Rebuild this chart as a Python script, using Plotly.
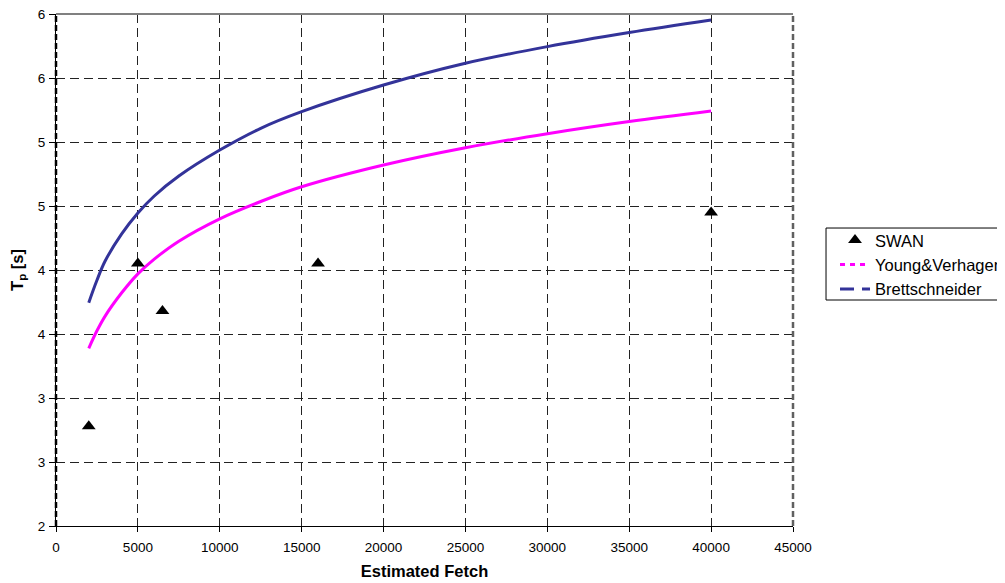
import plotly.graph_objects as go

# ---- data ----
swan_x = [2000, 5000, 6500, 16000, 40000]
swan_y = [2.78, 4.05, 3.68, 4.05, 4.45]

curve_x = [2000, 2500, 3000, 4000, 5000, 6000, 7500, 10000, 12500, 15000,
           20000, 25000, 30000, 35000, 40000]
young_y = [3.388, 3.525, 3.64, 3.82, 3.97, 4.085, 4.225, 4.40, 4.535, 4.65,
           4.82, 4.955, 5.065, 5.16, 5.242]
brett_y = [3.745, 3.92, 4.07, 4.28, 4.445, 4.578, 4.734, 4.937, 5.107, 5.237,
           5.445, 5.615, 5.745, 5.855, 5.953]

x_ticks = [0, 5000, 10000, 15000, 20000, 25000, 30000, 35000, 40000, 45000]
y_ticks = [2.0, 2.5, 3.0, 3.5, 4.0, 4.5, 5.0, 5.5, 6.0]
y_ticktext = ["2", "3", "3", "4", "4", "5", "5", "6", "6"]

FONT = "Liberation Sans, Arial, sans-serif"
BLUE = "#333399"
MAGENTA = "#FF00FF"

fig = go.Figure()

# curves (visual)
fig.add_trace(go.Scatter(x=curve_x, y=young_y, mode="lines",
                         line=dict(color=MAGENTA, width=3, shape="spline", smoothing=1),
                         showlegend=False, hoverinfo="skip"))
fig.add_trace(go.Scatter(x=curve_x, y=brett_y, mode="lines",
                         line=dict(color=BLUE, width=3, shape="spline", smoothing=1),
                         showlegend=False, hoverinfo="skip"))
# SWAN markers
fig.add_trace(go.Scatter(x=swan_x, y=swan_y, mode="markers", name="SWAN",
                         marker=dict(symbol="triangle-up", size=12, color="black")))
# legend proxies
fig.add_trace(go.Scatter(x=[None], y=[None], mode="lines", name="Young&Verhagen",
                         line=dict(color=MAGENTA, width=3, dash="5px,5px")))
fig.add_trace(go.Scatter(x=[None], y=[None], mode="lines", name="Brettschneider",
                         line=dict(color=BLUE, width=3, dash="14px,8px")))

fig.update_layout(
    width=997, height=575,
    margin=dict(l=48, r=212, t=6, b=57, autoexpand=False),
    paper_bgcolor="white", plot_bgcolor="white",
    font=dict(family=FONT, color="black", size=13.5),
    xaxis=dict(range=[0, 45000], tickvals=x_ticks, ticktext=[str(v) for v in x_ticks],
               ticks="outside", ticklen=5, tickcolor="black", ticklabelstandoff=4,
               ticklabeloverflow="allow",
               showline=True, linecolor="black", linewidth=1,
               showgrid=True, gridcolor="#222222", gridwidth=1, griddash="9px,5px",
               zeroline=False, tickfont=dict(size=13.5), automargin=False,
               title=dict(text="<b>Estimated Fetch</b>", font=dict(size=16.5), standoff=11)),
    yaxis=dict(range=[2, 6], tickvals=y_ticks, ticktext=y_ticktext,
               ticks="outside", ticklen=6, tickcolor="black", ticklabelstandoff=1,
               ticklabeloverflow="allow",
               showline=True, linecolor="black", linewidth=1,
               showgrid=True, gridcolor="#222222", gridwidth=1, griddash="9px,5px",
               zeroline=False, tickfont=dict(size=13.5), automargin=False,
               title=dict(text="<b>T<sub>p</sub> [s]</b>", font=dict(size=16.5), standoff=12)),
    legend=dict(x=1.0570, y=0.592, xanchor="left", yanchor="top",
                borderwidth=0, bgcolor="rgba(0,0,0,0)",
                font=dict(size=16.5, family=FONT), tracegroupgap=0),
    shapes=[
        dict(type="line", xref="paper", yref="paper", x0=0, x1=1, y0=1, y1=1,
             line=dict(color="#808080", width=2)),
        dict(type="line", xref="paper", yref="paper", x0=1, x1=1, y0=0, y1=1,
             line=dict(color="#606060", width=2.5, dash="6px,3px")),
        dict(type="line", xref="paper", yref="paper", x0=0, x1=0, y0=0, y1=1,
             line=dict(color="black", width=2.5, dash="6px,3px")),
        dict(type="rect", xref="paper", yref="paper", x0=1.0448, x1=1.35, y0=0.4414, y1=0.582,
             line=dict(color="black", width=1), fillcolor="white", layer="below"),
    ],
)

fig.write_html("out.html")
